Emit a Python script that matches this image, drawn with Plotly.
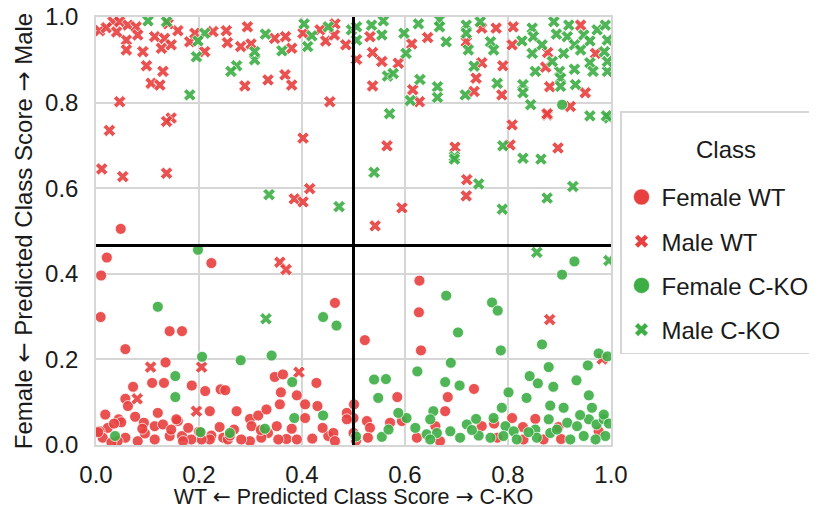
import plotly.graph_objects as go

# ---------------- data ----------------
female_wt_x = [.048,.021,.010,.224,.009,.143,.167,.464,.628,.627,.522,.631,.734,.585,.683,.678,.501,.500,.526,.571,
               .594,.532,.500,.528,.623,.659,.668,.749,.773,.779,.808,.829,.853,.898,.903,.976,.830,.869,.057,.135,
               .109,.132,.072,.186,.212,.242,.251,.057,.062,.018,.120,.076,.093,.044,.049,.023,.007,.013,.057,.114,
               .114,.130,.143,.159,.167,.179,.146,.221,.224,.247,.268,.273,.299,.302,.299,.315,.331,.334,.351,.357,
               .359,.347,.363,.390,.380,.370,.390,.406,.406,.428,.430,.451,.461,.487,.487,.221,.205,.185,.282,.256,
               .321,.354,.004,.042,.081,.169,.156,.464,.030,.095,.200,.240,.320,.440,.420,.505,.090,.260,.035]
female_wt_y = [.505,.438,.396,.425,.299,.266,.266,.332,.384,.310,.245,.221,.131,.112,.112,.079,.095,.063,.056,.052,
               .056,.040,.028,.017,.017,.044,.009,.044,.050,.017,.063,.042,.061,.042,.014,.032,.013,.013,.224,.193,
               .145,.145,.136,.139,.126,.130,.128,.108,.091,.071,.075,.066,.052,.060,.053,.040,.032,.017,.017,.013,
               .044,.048,.021,.056,.021,.040,.036,.079,.022,.017,.036,.079,.061,.044,.009,.069,.083,.028,.044,.095,
               .123,.159,.165,.116,.038,.014,.013,.095,.063,.145,.091,.021,.028,.075,.060,.013,.013,.013,.013,.013,
               .017,.013,.030,.009,.009,.009,.060,.009,.006,.027,.031,.042,.035,.040,.015,.010,.038,.022,.050]

male_wt_x = [.007,.033,.046,.062,.078,.081,.059,.059,.091,.098,.130,.107,.124,.046,.114,.133,.127,.146,.159,.140,
             .182,.192,.211,.227,.253,.255,.281,.294,.301,.347,.368,.380,.334,.367,.380,.289,.402,.435,.446,.464,
             .463,.485,.454,.146,.137,.026,.011,.052,.137,.402,.415,.385,.402,.357,.369,.106,.205,.080,.195,.394,
             .565,.697,.808,.804,.897,.876,.720,.719,.594,.542,.881,.983,.532,.537,.555,.587,.537,.613,.644,.615,
             .628,.719,.749,.777,.810,.808,.749,.790,.738,.734,.788,.877,.873,.881,.950,.921,.876,.941,.970,.506,
             .020,.040]
male_wt_y = [.968,.989,.989,.981,.977,.958,.946,.923,.919,.886,.873,.845,.841,.802,.954,.950,.927,.935,.968,.984,
             .942,.962,.919,.966,.968,.940,.931,.977,.937,.950,.954,.927,.853,.865,.841,.839,.962,.970,.944,.984,
             .958,.935,.802,.764,.756,.735,.645,.627,.635,.717,.599,.575,.568,.427,.410,.182,.182,.108,.079,.170,
             .699,.696,.748,.701,.694,.771,.620,.582,.554,.512,.293,.201,.954,.917,.896,.892,.839,.937,.952,.830,
             .802,.942,.974,.974,.977,.935,.893,.886,.857,.826,.818,.917,.883,.837,.823,.791,.774,.981,.915,.901,
             .975,.965]

female_ko_x = [.198,.120,.441,.467,.929,.905,.680,.769,.780,.703,.206,.281,.341,.154,.154,.381,.385,.441,.037,.203,
               .260,.328,.786,.866,.540,.563,.548,.624,.689,.678,.706,.801,.788,.842,.858,.879,.888,.836,.882,.908,
               .933,.955,.957,.963,.976,.993,.603,.587,.655,.649,.642,.662,.688,.707,.720,.738,.743,.772,.795,.811,
               .817,.853,.879,.882,.915,.934,.947,.957,.972,.986,.989,.970,.555,.568,.649,.921,.856,.986,.895,.766,
               .791,.905,.996,.620,.730,.840,.940,.505]
female_ko_y = [.456,.323,.299,.279,.429,.398,.349,.333,.314,.263,.206,.198,.209,.161,.112,.147,.063,.069,.021,.030,
               .028,.038,.221,.235,.153,.154,.110,.172,.192,.147,.139,.123,.087,.161,.144,.182,.136,.110,.092,.087,
               .151,.186,.116,.087,.214,.207,.063,.075,.079,.060,.025,.028,.032,.017,.048,.061,.022,.063,.044,.032,
               .013,.036,.060,.028,.052,.044,.021,.060,.048,.060,.021,.013,.019,.036,.013,.013,.017,.071,.036,.017,
               .021,.795,.050,.040,.035,.030,.070,.020]

male_ko_x = [.101,.137,.182,.195,.211,.198,.273,.262,.308,.329,.308,.361,.404,.411,.419,.451,.496,.336,.472,.330,
             .570,.540,.696,.696,.743,.790,.829,.864,.926,.876,.789,.856,.996,.959,.996,.506,.506,.535,.558,.555,
             .598,.626,.667,.667,.680,.602,.566,.577,.629,.663,.663,.610,.719,.719,.746,.723,.766,.772,.734,.779,
             .717,.829,.829,.844,.847,.849,.827,.847,.866,.853,.900,.902,.902,.889,.894,.918,.915,.929,.947,.959,
             .973,.989,.993,.987,.908,.941,.886,.959,.929,.965,.993,.993,.931,.991]
male_ko_y = [.991,.989,.818,.907,.962,.944,.886,.873,.900,.960,.919,.921,.984,.931,.956,.977,.970,.585,.557,.295,
             .774,.637,.674,.668,.610,.699,.670,.668,.604,.577,.551,.450,.431,.769,.764,.977,.946,.981,.991,.958,
             .962,.984,.993,.977,.942,.915,.862,.868,.854,.837,.812,.805,.981,.962,.989,.923,.942,.923,.885,.845,
             .818,.842,.823,.795,.974,.954,.944,.915,.935,.873,.873,.857,.838,.989,.960,.981,.954,.935,.958,.944,
             .970,.981,.946,.919,.915,.923,.896,.893,.878,.873,.873,.896,.842,.769]

class_names = ["Female WT", "Male WT", "Female C-KO", "Male C-KO"]
legend_title = "Class"
x_ticks = [0.0, 0.2, 0.4, 0.6, 0.8, 1.0]
y_ticks = [0.0, 0.2, 0.4, 0.6, 0.8, 1.0]
x_split = 0.5
y_split = 0.466

# ---------------- styling ----------------
RED = "#E8403F"
GREEN = "#3DAE45"
FONT = "Liberation Sans, Arial, sans-serif"
GRID = "#d6d6d6"
LA = "<span style='font-family:DejaVu Sans'>\u2190</span>"
RA = "<span style='font-family:DejaVu Sans'>\u2192</span>"

# The page body keeps its default 8px margin, so the figure is made 16px
# smaller than the window; the plot area then lands at x 96..611, y 17..445.
PAGE_OFF = 8
W, H = 817 - 2 * PAGE_OFF, 517 - 2 * PAGE_OFF
PL, PR = 96 - PAGE_OFF, W - (611 - PAGE_OFF)
PT, PB = 17 - PAGE_OFF, H - (445 - PAGE_OFF)
PLOT_H = 445 - 17

series = [
    (class_names[0], female_wt_x, female_wt_y, RED, "circle"),
    (class_names[1], male_wt_x, male_wt_y, RED, "x"),
    (class_names[2], female_ko_x, female_ko_y, GREEN, "circle"),
    (class_names[3], male_ko_x, male_ko_y, GREEN, "x"),
]

fig = go.Figure()
for name, xs, ys, col, sym in series:
    fig.add_trace(go.Scatter(
        x=xs, y=ys, mode="markers", name=name, showlegend=False,
        marker=dict(color=col, symbol=sym, size=11, opacity=0.9,
                    line=dict(color="white", width=0.8)),
    ))
# legend entries (larger markers, like the reference legend)
for i, (name, xs, ys, col, sym) in enumerate(series):
    fig.add_trace(go.Scatter(
        x=[None], y=[None], mode="markers", name=name, legendgroup=f"g{i}",
        marker=dict(color=col, symbol=sym, size=16 if sym == "circle" else 12,
                    line=dict(color="white", width=0.5)),
    ))

fig.add_shape(type="line", xref="x", yref="y", x0=x_split, x1=x_split, y0=0, y1=1,
              line=dict(color="black", width=3), layer="above")
fig.add_shape(type="line", xref="x", yref="y", x0=0, x1=1, y0=y_split, y1=y_split,
              line=dict(color="black", width=3), layer="above")

# legend title drawn as text centred in the legend box
fig.add_annotation(text=legend_title, xref="paper", yref="paper",
                   x=1.223, y=(445 - 150) / PLOT_H, xanchor="center", yanchor="middle",
                   showarrow=False, font=dict(size=24, color="#1a1a1a"))

fig.update_layout(
    width=W, height=H,
    margin=dict(l=PL, r=PR, t=PT, b=PB),
    paper_bgcolor="white", plot_bgcolor="white",
    font=dict(family=FONT, color="#1a1a1a"),
    xaxis=dict(range=[0, 1], tickvals=x_ticks, tickformat=".1f", automargin=False,
               showgrid=True, gridcolor=GRID, gridwidth=1.5, zeroline=False,
               showline=True, linecolor=GRID, linewidth=1.5, mirror=True,
               tickfont=dict(size=24), ticklabelstandoff=7, ticklabeloverflow="allow",
               title=dict(text=f"WT {LA} Predicted Class Score {RA} C-KO",
                          font=dict(size=21.5), standoff=9)),
    yaxis=dict(range=[0, 1], tickvals=y_ticks, tickformat=".1f", automargin=False,
               showgrid=True, gridcolor=GRID, gridwidth=1.5, zeroline=False,
               showline=True, linecolor=GRID, linewidth=1.5, mirror=True,
               tickfont=dict(size=24), ticklabelstandoff=11, ticklabeloverflow="allow",
               title=dict(text=f"Female {LA} Predicted Class Score {RA} Male",
                          font=dict(size=24), standoff=6)),
    legend=dict(xref="container", yref="container",
                x=(620 - PAGE_OFF) / W, y=1 - (111 - PAGE_OFF) / H,
                xanchor="left", yanchor="top",
                bordercolor=GRID, borderwidth=1.5, bgcolor="white",
                font=dict(size=24), tracegroupgap=10, traceorder="grouped",
                title=dict(text="&nbsp;<br>&nbsp;", font=dict(size=24), side="top")),
)

fig.write_html("out.html")
